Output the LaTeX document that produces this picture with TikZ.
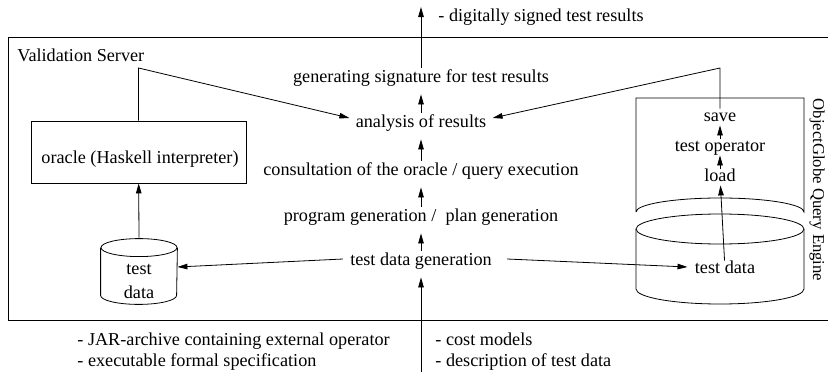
\documentclass[tikz,border=0pt]{standalone}
\usepackage{fontspec}
\setmainfont{Liberation Serif}
\usetikzlibrary{arrows.meta}
\begin{document}
\begin{tikzpicture}[x=1pt,y=-1pt,
  line width=0.8pt,
  every node/.style={font=\fontsize{18.2}{22}\selectfont},
  arr/.style={-{Triangle[length=10pt,width=5.5pt]}},
  stack/.style={inner xsep=7pt, inner ysep=0pt, text height=14pt, text depth=12pt},
  small/.style={inner sep=0pt, text height=12pt, text depth=4pt},
  plain/.style={anchor=base west, inner sep=0pt},
]
\useasboundingbox (0,0) rectangle (828,372);

% server frame (open to the right)
\draw (830,37) -- (8,37) -- (8,320) -- (830,320);
\node[plain] (vs) at (17,61) {Validation Server};

% central processing chain
\node[stack] (gen) at (421,81) {generating signature for test results};
\node[stack, inner xsep=6pt] (ana) at (421,126) {analysis of results};
\node[stack] (con) at (421,174) {consultation of the oracle / query execution};
\node[stack] (prg) at (421,220) {program generation /\ \ plan generation};
\node[stack] (tdg) at (421,264) {test data generation};

\coordinate (out) at (421,7);
\coordinate (in) at (421,372);
\draw[arr] (gen) -- (out);
\draw[arr] (ana) -- (gen);
\draw[arr] (con) -- (ana);
\draw[arr] (prg) -- (con);
\draw[arr] (tdg) -- (prg);
\draw[arr] (in) -- (tdg);

\node[plain] (res) at (438,21) {- digitally signed test results};

% inputs
\node[plain] (jar) at (77,345) {- JAR-archive containing external operator};
\node[plain] (spec) at (77,366) {- executable formal specification};
\node[plain] (cost) at (435,345) {- cost models};
\node[plain] (desc) at (435,366) {- description of test data};

% oracle and its test data
\node[draw, minimum width=215pt, minimum height=62pt, inner sep=0pt] (orc) at (138.5,152) {};
\node[small] (orctxt) at (140,159) {oracle (Haskell interpreter)};

\node[minimum width=76pt, minimum height=47pt, inner sep=0pt] (ldb) at (139,271.5) {};
\draw (ldb.north west) -- (ldb.south west)
  arc[start angle=180, end angle=360, x radius=38pt, y radius=9pt] -- (ldb.north east);
\draw (ldb.north) ellipse [x radius=38pt, y radius=9pt];
\node[align=center, inner sep=0pt, font=\fontsize{18.2}{24}\selectfont] (ldbtxt) at (139,281.5) {test\\data};
\draw[arr] ([yshift=10pt]ldb.north) -- (orc);

% ObjectGlobe query engine
\draw (636,212) -- (636,98) -- (804,98) -- (804,212)
  arc[start angle=0, end angle=180, x radius=84pt, y radius=14pt];
\draw (720,229) ellipse [x radius=84pt, y radius=15pt];
\draw (636,229) -- (636,289)
  arc[start angle=180, end angle=360, x radius=84pt, y radius=15pt] -- (804,229);
\node[small] (save) at (720,117) {save};
\node[small] (top) at (720,147) {test operator};
\node[small] (load) at (720,177) {load};
\node[small, inner xsep=7pt] (rtd) at (725,269) {test data};
\draw[arr] (top) -- (save);
\draw[arr] (load) -- (top);
\draw[arr] (rtd) -- (load);
\node[rotate=-90, inner sep=0pt, font=\fontsize{16.7}{20}\selectfont] (og) at (817,190) {ObjectGlobe Query Engine};

% test data distribution
\draw[arr] ([yshift=5pt]tdg.west) -- ([yshift=4.5pt]ldb.east);
\draw[arr] ([xshift=8pt,yshift=5pt]tdg.east) -- ([yshift=2pt]rtd.west);

% results flowing into the analysis
\coordinate (lc) at (138.5,68);
\coordinate (rc) at (720,68);
\draw[arr] (orc.north) -- (lc) -- ([yshift=8pt]ana.west);
\draw[arr] (save) -- (rc) -- ([yshift=8pt]ana.east);
\end{tikzpicture}
\end{document}
